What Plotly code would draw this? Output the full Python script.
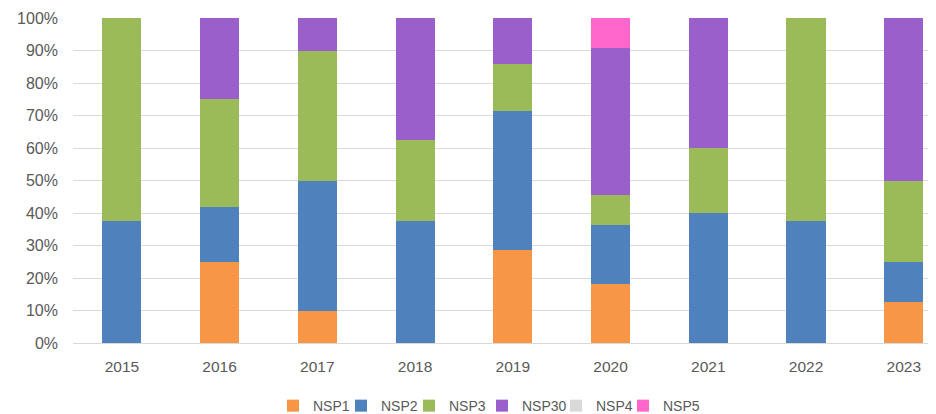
import plotly.graph_objects as go

years = ["2015", "2016", "2017", "2018", "2019", "2020", "2021", "2022", "2023"]
nsp1 = [0, 25.0, 10.0, 0, 28.6, 18.2, 0, 0, 12.5]
nsp2 = [37.5, 16.7, 40.0, 37.5, 42.9, 18.2, 40.0, 37.5, 12.5]
nsp3 = [62.5, 33.3, 40.0, 25.0, 14.3, 9.1, 20.0, 62.5, 25.0]
nsp30 = [0, 25.0, 10.0, 37.5, 14.3, 45.5, 40.0, 0, 50.0]
nsp4 = [0, 0, 0, 0, 0, 0, 0, 0, 0]
nsp5 = [0, 0, 0, 0, 0, 9.1, 0, 0, 0]

series = [
    ("NSP1", nsp1, "#F79646"),
    ("NSP2", nsp2, "#4F81BD"),
    ("NSP3", nsp3, "#9BBB59"),
    ("NSP30", nsp30, "#9B5FCC"),
    ("NSP4", nsp4, "#D9D9D9"),
    ("NSP5", nsp5, "#FF66CC"),
]

# page body has an 8px margin, so the figure is drawn 8px smaller
W, H = 928, 406
ML, MR, MT, MB = 65, 0, 10, 71
plot_w = W - ML - MR

# left edges of legend swatches (page pixels)
swatch_left = [287, 355, 423, 496, 570, 637]

fig = go.Figure()
layout_legends = {}
for i, (name, vals, color) in enumerate(series):
    key = "legend" if i == 0 else f"legend{i+1}"
    fig.add_trace(go.Bar(x=years, y=vals, name=name, marker_color=color,
                         marker_line_width=0, width=0.4, legend=key))
    px = swatch_left[i] - 8 - 14 - ML
    layout_legends[key] = dict(
        orientation="h", x=px / plot_w, xanchor="left", y=-0.194, yanchor="middle",
        font=dict(size=14, color="#595959"), bgcolor="rgba(0,0,0,0)",
        itemwidth=30,
    )

fig.update_layout(
    barmode="stack",
    barnorm="percent",
    width=W, height=H,
    margin=dict(l=ML, r=MR, t=MT, b=MB, autoexpand=False),
    paper_bgcolor="white", plot_bgcolor="white",
    font=dict(family="Liberation Sans, Arial, sans-serif", size=15, color="#595959"),
    showlegend=True,
    xaxis=dict(type="category", range=[-0.5, 8.33], showgrid=False, showline=False,
               ticks="", ticklabelstandoff=12, tickfont=dict(size=15.5, color="#595959")),
    yaxis=dict(range=[0, 100], dtick=10, ticksuffix="%", gridcolor="#D9D9D9",
               gridwidth=1, zeroline=True, zerolinecolor="#D9D9D9", zerolinewidth=1,
               showline=False, ticks="", ticklabelstandoff=14,
               tickfont=dict(size=16, color="#595959")),
    **layout_legends,
)

fig.write_html("out.html")
